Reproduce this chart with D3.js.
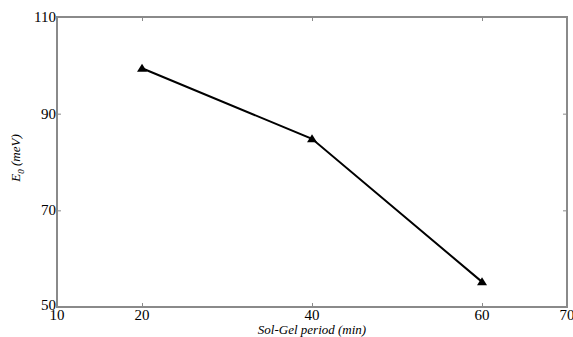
<!DOCTYPE html>
<html>
<head>
<meta charset="utf-8">
<script src="https://cdn.jsdelivr.net/npm/d3@7"></script>
<style>
  body { margin: 0; background: #fff; }
  svg { display: block; }
</style>
</head>
<body>
<svg width="573" height="337"></svg>
<script>
// sol-gel period (min) vs E0 (meV)
const periods = [20, 40, 60];
const e0Values = [99.4, 84.8, 55.2];
const xTicks = [10, 20, 40, 60, 70];
const yTicks = [50, 70, 90, 110];

const width = 573;
const height = 337;
const margin = { top: 17, right: 6, bottom: 30, left: 57 };
const innerW = width - margin.left - margin.right;
const innerH = height - margin.top - margin.bottom;
const axisColor = '#8a8a8a';
const font = 'Liberation Serif';

const svg = d3.select('svg');
const g = svg.append('g').attr('transform', `translate(${margin.left},${margin.top})`);

const xScale = d3.scaleLinear().domain([10, 70]).range([0, innerW]);
const yScale = d3.scaleLinear().domain([50, 110]).range([innerH, 0]);

// inner ticks (no tick marks at the corners)
const innerX = xTicks.filter((d) => d > 10 && d < 70);
const innerY = yTicks.filter((d) => d > 50 && d < 110);

const styleTicks = (a) => {
  a.select('.domain').remove();
  a.selectAll('line').attr('stroke', axisColor).attr('stroke-width', 1);
};

g.append('g')
  .attr('transform', `translate(0,${innerH})`)
  .call(d3.axisBottom(xScale).tickValues(innerX).tickSize(-4).tickFormat(''))
  .call(styleTicks);

g.append('g')
  .call(d3.axisTop(xScale).tickValues(innerX).tickSize(-4).tickFormat(''))
  .call(styleTicks);

g.append('g')
  .call(d3.axisLeft(yScale).tickValues(innerY).tickSize(-4).tickFormat(''))
  .call(styleTicks);

g.append('g')
  .attr('transform', `translate(${innerW},0)`)
  .call(d3.axisRight(yScale).tickValues(innerY).tickSize(-4).tickFormat(''))
  .call(styleTicks);

// frame
g.append('rect')
  .attr('width', innerW)
  .attr('height', innerH)
  .attr('fill', 'none')
  .attr('stroke', axisColor)
  .attr('stroke-width', 2);

// tick labels
g.selectAll('.xlab')
  .data(xTicks)
  .enter()
  .append('text')
  .attr('x', (d) => xScale(d))
  .attr('y', innerH + 13)
  .attr('text-anchor', 'middle')
  .attr('font-family', font)
  .attr('font-size', 15)
  .text((d) => d);

g.selectAll('.ylab')
  .data(yTicks)
  .enter()
  .append('text')
  .attr('x', -1)
  .attr('y', (d) => yScale(d) + (d == 50 ? 3 : 5))
  .attr('text-anchor', 'end')
  .attr('font-family', font)
  .attr('font-size', 15)
  .text((d) => d);

// axis titles
g.append('text')
  .attr('x', innerW / 2)
  .attr('y', innerH + 27)
  .attr('text-anchor', 'middle')
  .attr('font-family', font)
  .attr('font-size', 13)
  .attr('font-style', 'italic')
  .text('Sol-Gel period (min)');

const yTitle = g.append('text')
  .attr('transform', `translate(${-37},${innerH / 2 - 4}) rotate(-90)`)
  .attr('text-anchor', 'middle')
  .attr('font-family', font)
  .attr('font-size', 13)
  .attr('font-style', 'italic');
yTitle.append('tspan').text('E');
yTitle.append('tspan').attr('dy', 4).attr('font-size', 9).text('0');
yTitle.append('tspan').attr('dy', -4).text(' (meV)');

// line + markers
const pts = periods.map((p, i) => ({ x: p, y: e0Values[i] }));

g.append('path')
  .datum(pts)
  .attr('fill', 'none')
  .attr('stroke', '#000')
  .attr('stroke-width', 2)
  .attr('d', d3.line().x((d) => xScale(d.x)).y((d) => yScale(d.y)));

g.selectAll('.marker')
  .data(pts)
  .enter()
  .append('path')
  .attr('transform', (d) => `translate(${xScale(d.x)},${yScale(d.y)})`)
  .attr('d', 'M0,-4.5L5,3.5L-5,3.5Z')
  .attr('fill', '#000');
</script>
</body>
</html>
